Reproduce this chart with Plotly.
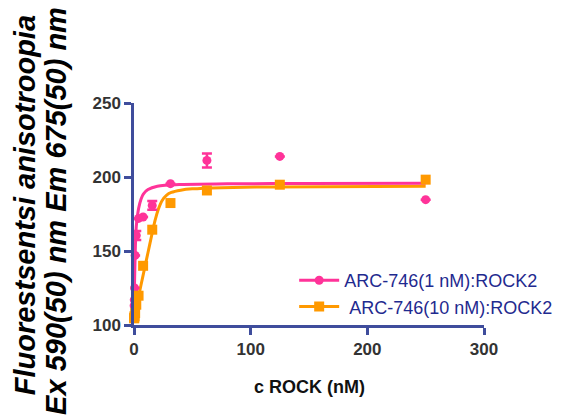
import plotly.graph_objects as go

# Concentrations of ROCK2 (nM)
conc_1nM = [250, 125, 62.5, 31.25, 15.63, 7.81, 3.91, 1.95, 0.98, 0.49, 0.24, 0.12]
fa_1nM = [184.7, 213.9, 211.2, 195.5, 180.8, 173.0, 172.0, 160.5, 147.0, 125.0, 117.0, 113.0]
err_1nM = [0, 0, 4.7, 0, 3.0, 0, 0, 3.0, 0, 0, 0, 0]

conc_10nM = [250, 125, 62.5, 31.25, 15.63, 7.81, 3.91, 1.95, 0.98, 0.49, 0.24, 0.12]
fa_10nM = [198.2, 194.8, 190.9, 182.4, 164.4, 140.0, 119.8, 113.7, 108.0, 106.0, 105.0, 104.5]

# Fitted binding curves
fit_x_1nM = [0, 0.5, 1, 1.5, 2, 3, 4, 6, 8, 12, 20, 40, 80, 150, 250]
fit_y_1nM = [110, 130, 148, 160, 167, 174, 179, 185, 188.5, 191.5, 193.8, 195.0, 195.4, 195.6, 195.7]

fit_x_10nM = [0, 3, 6, 9, 12, 15, 18, 21, 24, 28, 32, 40, 50, 75, 120, 250]
fit_y_10nM = [106, 116, 127, 138, 149, 160, 170.5, 178.5, 184.0, 187.8, 189.6, 191.1, 192.0, 192.8, 193.3, 193.7]

x_ticks = [0, 100, 200, 300]
y_ticks = [100, 150, 200, 250]

names = ["ARC-746(1 nM):ROCK2", "\u00a0ARC-746(10 nM):ROCK2"]
y_title_lines = ["Fluorestsentsi anisotroopia", "Ex 590(50) nm Em 675(50) nm"]
x_title = "c ROCK (nM)"

PINK = "#FF3399"
ORANGE = "#FF9900"
AXIS = "#3F4D9C"
NAVY = "#1F2A8F"

L, R, T, B = 134, 82, 103, 92
PW = 570 - L - R
PH = 417 - T - B


def px_x(px):
    return (px - L) / PW


def px_y(py):
    return (417 - B - py) / PH


fig = go.Figure()

fig.add_trace(go.Scatter(x=fit_x_10nM, y=fit_y_10nM, mode="lines",
                         line=dict(color=ORANGE, width=3, shape="spline", smoothing=0.8),
                         showlegend=False, hoverinfo="skip"))
fig.add_trace(go.Scatter(x=fit_x_1nM, y=fit_y_1nM, mode="lines",
                         line=dict(color=PINK, width=3, shape="spline", smoothing=0.8),
                         showlegend=False, hoverinfo="skip"))
fig.add_trace(go.Scatter(x=conc_1nM, y=fa_1nM, mode="markers",
                         marker=dict(color=PINK, size=9, symbol="circle"),
                         error_y=dict(type="data", array=err_1nM, color=PINK, thickness=2.5, width=5),
                         showlegend=False, cliponaxis=False))
fig.add_trace(go.Scatter(x=conc_10nM, y=fa_10nM, mode="markers",
                         marker=dict(color=ORANGE, size=10, symbol="square"),
                         showlegend=False, cliponaxis=False))

# legend entries
fig.add_trace(go.Scatter(x=[None], y=[None], mode="lines+markers", name=names[0],
                         line=dict(color=PINK, width=3),
                         marker=dict(color=PINK, size=9, symbol="circle")))
fig.add_trace(go.Scatter(x=[None], y=[None], mode="lines+markers", name=names[1],
                         line=dict(color=ORANGE, width=3),
                         marker=dict(color=ORANGE, size=10, symbol="square")))

axis_common = dict(showgrid=False, zeroline=False, showline=True, linecolor=AXIS, linewidth=2.5,
                   ticks="outside", ticklen=7, tickwidth=2.5, tickcolor=AXIS,
                   tickfont=dict(family="Liberation Sans, Arial", size=17, color="#333333", weight="bold"))

fig.update_xaxes(range=[0, 300], tickvals=x_ticks, **axis_common)
fig.update_yaxes(range=[100, 250], tickvals=y_ticks, **axis_common)

title_font = dict(family="Liberation Sans, Arial", size=29, color="#000000",
                  weight="bold", style="italic")

fig.update_layout(
    width=570, height=417,
    margin=dict(l=L, r=R, t=T, b=B),
    plot_bgcolor="white", paper_bgcolor="white",
    legend=dict(x=px_x(296), y=px_y(262), xanchor="left", yanchor="top", itemwidth=40,
                bgcolor="rgba(0,0,0,0)", tracegroupgap=0,
                font=dict(family="Liberation Sans, Arial", size=18, color=NAVY)),
    annotations=[
        dict(text=x_title, xref="paper", yref="paper", x=0.5, y=px_y(387),
             xanchor="center", yanchor="middle", showarrow=False,
             font=dict(family="Liberation Sans, Arial", size=18, color="#111111", weight="bold")),
        dict(text=y_title_lines[0], xref="paper", yref="paper", x=px_x(24), y=px_y(205),
             xanchor="center", yanchor="middle", textangle=-90, showarrow=False, font=title_font),
        dict(text=y_title_lines[1], xref="paper", yref="paper", x=px_x(55), y=px_y(211),
             xanchor="center", yanchor="middle", textangle=-90, showarrow=False, font=title_font),
    ],
)

fig.write_html("out.html", post_script="document.body.style.margin='0';",
               config={"displayModeBar": False})
